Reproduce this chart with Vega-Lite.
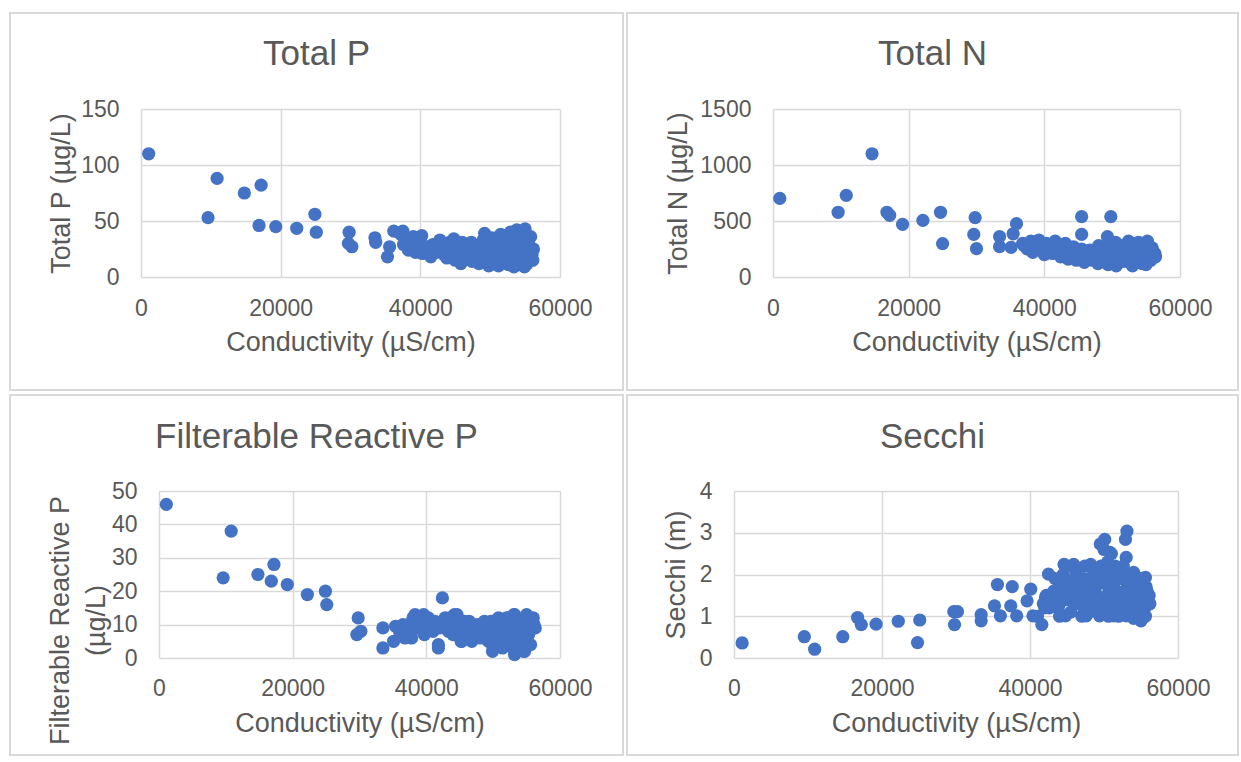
{
  "$schema": "https://vega.github.io/schema/vega-lite/v6.json",
  "padding": {"left": 9, "top": 12, "right": 0, "bottom": 0},
  "background": "white",
  "config": {
    "view": {"stroke": "#d9d9d9", "strokeWidth": 2},
    "font": "Liberation Sans",
    "axis": {"domain": false, "ticks": false, "grid": true, "gridColor": "#d9d9d9", "gridWidth": 1.5,
             "labelFont": "Liberation Sans", "labelFontSize": 23, "labelColor": "#595959",
             "titleFont": "Liberation Sans", "titleFontSize": 27, "titleColor": "#595959", "titleFontWeight": "normal",
             "labelFlush": false, "labelOverlap": false, "labelBound": false, "format": "d"},
    "title": {"font": "Liberation Sans", "fontSize": 35, "color": "#595959", "fontWeight": "normal", "anchor": "middle", "frame": "group"}
  },
  "datasets": {
    "tp": [
      {"c":1100,"v":110},{"c":10900,"v":88},{"c":14800,"v":75},{"c":17200,"v":82},{"c":9600,"v":53},{"c":16900,"v":46},{"c":19300,"v":45},{"c":22300,"v":43.5},{"c":24900,"v":56},{"c":25100,"v":40},{"c":29800,"v":40},{"c":29700,"v":30},{"c":30200,"v":27},{"c":33500,"v":35},{"c":33600,"v":31},{"c":35600,"v":27},{"c":35300,"v":18},{"c":36200,"v":41},{"c":37500,"v":41},
      {"c":37200,"v":38},{"c":37600,"v":29},{"c":38000,"v":33},{"c":38300,"v":24},{"c":38800,"v":28},{"c":39000,"v":36},{"c":39300,"v":22},{"c":39800,"v":30},{"c":40200,"v":37},{"c":40300,"v":21},{"c":40600,"v":26},{"c":41200,"v":24},{"c":41500,"v":18},{"c":41800,"v":29},{"c":42300,"v":22},{"c":42800,"v":33},{"c":43000,"v":26},{"c":43400,"v":20},{"c":43800,"v":17},{"c":44200,"v":31},{"c":44500,"v":24},{"c":44800,"v":34},{"c":45000,"v":15},{"c":45200,"v":27},{"c":45600,"v":21},{"c":45800,"v":12},{"c":46000,"v":31},{"c":46300,"v":18},{"c":46700,"v":25},{"c":47000,"v":22},{"c":47400,"v":14},{"c":47800,"v":28},{"c":48100,"v":19},{"c":48400,"v":12},{"c":48700,"v":24},{"c":49000,"v":33},{"c":49200,"v":39},{"c":49300,"v":16},{"c":49500,"v":28},{"c":49800,"v":10},{"c":50000,"v":22},{"c":50300,"v":35},{"c":50500,"v":14},{"c":50700,"v":27},{"c":51000,"v":19},{"c":51200,"v":10},{"c":51400,"v":31},{"c":51700,"v":23},{"c":52000,"v":15},{"c":52200,"v":36},{"c":52400,"v":28},{"c":52600,"v":11},{"c":52800,"v":20},{"c":53000,"v":33},{"c":53200,"v":24},{"c":53400,"v":9},{"c":53600,"v":16},{"c":53800,"v":42},{"c":53900,"v":30},{"c":54100,"v":21},{"c":54300,"v":38},{"c":54500,"v":13},{"c":54700,"v":26},{"c":54900,"v":9},{"c":55000,"v":43},{"c":55200,"v":33},{"c":55400,"v":18},{"c":55600,"v":24},{"c":55800,"v":36},{"c":56000,"v":20},{"c":56100,"v":15},{"c":55100,"v":28},{"c":54000,"v":12},{"c":52900,"v":40},{"c":51500,"v":38},
      {"c":38500,"v":31},{"c":40000,"v":32},{"c":41000,"v":27},{"c":42000,"v":25},{"c":43500,"v":29},{"c":44000,"v":22},{"c":45400,"v":24},{"c":46500,"v":28},{"c":47300,"v":31},{"c":48000,"v":23},{"c":48900,"v":20},{"c":49600,"v":31},{"c":50200,"v":18},{"c":50900,"v":33},{"c":51800,"v":28},{"c":52500,"v":19},{"c":53300,"v":29},{"c":54200,"v":34},{"c":55500,"v":30},{"c":56200,"v":25},{"c":47700,"v":17},{"c":50600,"v":12},{"c":53700,"v":12},{"c":55300,"v":12}
    ],
    "tn": [
      {"c":1000,"v":702},{"c":14600,"v":1100},{"c":10800,"v":729},{"c":9600,"v":578},{"c":16800,"v":578},{"c":17200,"v":551},{"c":19100,"v":470},{"c":22100,"v":506},{"c":24700,"v":578},{"c":25000,"v":298},{"c":29800,"v":530},{"c":29600,"v":380},{"c":30000,"v":253},{"c":33400,"v":361},{"c":33400,"v":271},{"c":35400,"v":386},{"c":35900,"v":476},{"c":35100,"v":265},{"c":45500,"v":539},{"c":45500,"v":380},{"c":49800,"v":539},{"c":49300,"v":361},
      {"c":36800,"v":300},{"c":37500,"v":250},{"c":38000,"v":320},{"c":38300,"v":220},{"c":38800,"v":290},{"c":39200,"v":330},{"c":39500,"v":240},{"c":40000,"v":200},{"c":40300,"v":300},{"c":40800,"v":260},{"c":41200,"v":210},{"c":41600,"v":320},{"c":42000,"v":270},{"c":42400,"v":180},{"c":42800,"v":240},{"c":43100,"v":300},{"c":43500,"v":160},{"c":43900,"v":220},{"c":44300,"v":270},{"c":44700,"v":150},{"c":45100,"v":200},{"c":45500,"v":250},{"c":45900,"v":130},{"c":46300,"v":190},{"c":46700,"v":240},{"c":47100,"v":150},{"c":47500,"v":200},{"c":47900,"v":120},{"c":48300,"v":230},{"c":48700,"v":170},{"c":49100,"v":260},{"c":49400,"v":110},{"c":49700,"v":200},{"c":50100,"v":150},{"c":50400,"v":240},{"c":50800,"v":120},{"c":51200,"v":190},{"c":51500,"v":280},{"c":51800,"v":140},{"c":52100,"v":230},{"c":52400,"v":320},{"c":52600,"v":180},{"c":52900,"v":110},{"c":53200,"v":260},{"c":53400,"v":210},{"c":53700,"v":150},{"c":53900,"v":310},{"c":54200,"v":240},{"c":54400,"v":120},{"c":54700,"v":280},{"c":54900,"v":180},{"c":55200,"v":320},{"c":55400,"v":220},{"c":55700,"v":150},{"c":55900,"v":260},{"c":56100,"v":190},{"c":56300,"v":210},{"c":53000,"v":300},{"c":50500,"v":310},{"c":48000,"v":280},
      {"c":37000,"v":280},{"c":38500,"v":260},{"c":39800,"v":280},{"c":41000,"v":240},{"c":42300,"v":290},{"c":43300,"v":200},{"c":44500,"v":240},{"c":45800,"v":220},{"c":46800,"v":170},{"c":47800,"v":250},{"c":48500,"v":140},{"c":49200,"v":180},{"c":50200,"v":190},{"c":51000,"v":250},{"c":51900,"v":200},{"c":52800,"v":280},{"c":53700,"v":240},{"c":54600,"v":210},{"c":55500,"v":270},{"c":56000,"v":230},{"c":50600,"v":100},{"c":53000,"v":100},{"c":55000,"v":110},{"c":56400,"v":180}
    ],
    "frp": [
      {"c":1100,"v":46},{"c":10800,"v":38},{"c":9600,"v":24},{"c":14800,"v":25},{"c":17200,"v":28},{"c":16800,"v":23},{"c":19200,"v":22},{"c":22200,"v":19},{"c":24900,"v":20},{"c":25100,"v":16},{"c":29800,"v":12},{"c":29600,"v":7},{"c":30200,"v":8},{"c":33500,"v":9},{"c":33500,"v":3},{"c":35400,"v":9.5},{"c":35100,"v":5},{"c":37800,"v":6},{"c":38300,"v":13},{"c":39600,"v":13},{"c":39700,"v":7},{"c":41800,"v":4},{"c":41800,"v":3},{"c":42400,"v":18},{"c":42800,"v":12},{"c":44600,"v":13},{"c":44000,"v":7},{"c":46400,"v":11},{"c":45200,"v":5},{"c":48200,"v":9},{"c":49900,"v":11},{"c":49900,"v":2},{"c":52000,"v":12},{"c":53200,"v":13},{"c":53200,"v":1},{"c":55000,"v":13},{"c":55600,"v":4},{"c":56200,"v":9},{"c":54700,"v":2},
      {"c":36000,"v":8},{"c":36800,"v":6},{"c":37300,"v":10},{"c":38000,"v":12},{"c":38700,"v":9},{"c":39200,"v":11},{"c":39800,"v":8},{"c":40300,"v":12},{"c":40800,"v":10},{"c":41300,"v":11},{"c":42000,"v":9},{"c":42800,"v":11},{"c":43300,"v":8},{"c":43700,"v":10},{"c":44200,"v":13},{"c":44500,"v":7},{"c":44900,"v":9},{"c":45300,"v":5},{"c":45700,"v":11},{"c":46000,"v":7},{"c":46400,"v":9},{"c":46800,"v":5},{"c":47200,"v":8},{"c":47700,"v":10},{"c":48100,"v":6},{"c":48500,"v":8},{"c":48900,"v":9},{"c":49300,"v":5},{"c":49700,"v":11},{"c":50000,"v":3},{"c":50200,"v":7},{"c":50600,"v":9},{"c":51000,"v":5},{"c":51300,"v":11},{"c":51700,"v":8},{"c":52000,"v":4},{"c":52300,"v":12},{"c":52600,"v":10},{"c":52900,"v":6},{"c":53100,"v":13},{"c":53400,"v":8},{"c":53700,"v":3},{"c":53900,"v":11},{"c":54200,"v":9},{"c":54500,"v":6},{"c":54800,"v":12},{"c":55000,"v":10},{"c":55300,"v":7},{"c":55600,"v":11},{"c":55800,"v":9},{"c":56100,"v":10},{"c":56300,"v":9},{"c":55200,"v":4},{"c":54600,"v":2},{"c":53200,"v":2},{"c":52500,"v":5},{"c":51400,"v":3},
      {"c":36500,"v":10},{"c":37600,"v":8},{"c":38500,"v":11},{"c":40000,"v":10},{"c":41000,"v":8},{"c":42500,"v":10},{"c":43500,"v":12},{"c":44800,"v":11},{"c":46200,"v":10},{"c":47500,"v":7},{"c":48700,"v":11},{"c":50400,"v":10},{"c":51600,"v":10},{"c":52800,"v":9},{"c":54000,"v":7},{"c":55400,"v":9},{"c":56000,"v":12},{"c":47000,"v":10},{"c":49000,"v":7},{"c":50800,"v":12}
    ],
    "sec": [
      {"c":1100,"v":0.36},{"c":9500,"v":0.51},{"c":10900,"v":0.21},{"c":14700,"v":0.51},{"c":16700,"v":0.97},{"c":17200,"v":0.8},{"c":19200,"v":0.81},{"c":22200,"v":0.88},{"c":25100,"v":0.91},{"c":24800,"v":0.37},{"c":29700,"v":1.11},{"c":30200,"v":1.11},{"c":29800,"v":0.8},{"c":33400,"v":1.04},{"c":33400,"v":0.89},{"c":35600,"v":1.76},{"c":35200,"v":1.25},{"c":36000,"v":1.01},{"c":37600,"v":1.71},{"c":37400,"v":1.25},{"c":38200,"v":1.01},{"c":40100,"v":1.65},{"c":39600,"v":1.37},{"c":40400,"v":1.01},{"c":41600,"v":0.8},{"c":42500,"v":2.01},{"c":42100,"v":1.45},{"c":42800,"v":1.25},{"c":44600,"v":2.24},{"c":45900,"v":2.24},{"c":44800,"v":1.01},{"c":46200,"v":1.81},{"c":44100,"v":1.73},{"c":48200,"v":2.24},{"c":47600,"v":1.01},{"c":49500,"v":2.73},{"c":50100,"v":2.84},{"c":50800,"v":2.53},{"c":53100,"v":3.04},{"c":52900,"v":2.84},{"c":53000,"v":2.41},{"c":49400,"v":1.01},{"c":51300,"v":1.01},{"c":53000,"v":1.01},{"c":55000,"v":0.89},{"c":55600,"v":1.93},{"c":56000,"v":1.33},{"c":55900,"v":1.53},{"c":54000,"v":2.05},
      {"c":41000,"v":1.0},{"c":41800,"v":1.3},{"c":42200,"v":1.5},{"c":42600,"v":1.2},{"c":43000,"v":1.4},{"c":43400,"v":1.9},{"c":43800,"v":1.2},{"c":44200,"v":1.6},{"c":44500,"v":2.0},{"c":44900,"v":1.4},{"c":45200,"v":1.8},{"c":45500,"v":1.1},{"c":45900,"v":1.5},{"c":46200,"v":2.1},{"c":46500,"v":1.3},{"c":46900,"v":1.7},{"c":47300,"v":1.2},{"c":47600,"v":1.5},{"c":48000,"v":1.9},{"c":48300,"v":1.3},{"c":48600,"v":2.1},{"c":48800,"v":1.6},{"c":49100,"v":1.2},{"c":49300,"v":1.8},{"c":49600,"v":2.2},{"c":49900,"v":1.4},{"c":50100,"v":1.1},{"c":50300,"v":1.9},{"c":50500,"v":2.3},{"c":50700,"v":1.6},{"c":50900,"v":1.3},{"c":51100,"v":2.0},{"c":51300,"v":1.7},{"c":51500,"v":2.2},{"c":51700,"v":1.2},{"c":51900,"v":1.5},{"c":52100,"v":1.9},{"c":52300,"v":1.1},{"c":52500,"v":2.1},{"c":52700,"v":1.6},{"c":52900,"v":1.3},{"c":53100,"v":1.8},{"c":53300,"v":2.0},{"c":53500,"v":1.4},{"c":53700,"v":1.7},{"c":53900,"v":1.1},{"c":54100,"v":2.0},{"c":54300,"v":1.5},{"c":54500,"v":1.3},{"c":54700,"v":1.8},{"c":54900,"v":1.1},{"c":55100,"v":1.6},{"c":55300,"v":1.4},{"c":55500,"v":1.2},{"c":55700,"v":1.7},{"c":55900,"v":1.4},{"c":56100,"v":1.5},{"c":56200,"v":1.3},{"c":54000,"v":0.95},{"c":51000,"v":2.5},{"c":50000,"v":2.6},
      {"c":44000,"v":1.3},{"c":44700,"v":1.7},{"c":45400,"v":1.4},{"c":46000,"v":1.9},{"c":46700,"v":1.5},{"c":47200,"v":1.9},{"c":47800,"v":1.7},{"c":48400,"v":1.5},{"c":49000,"v":2.0},{"c":49800,"v":1.8},{"c":50400,"v":1.5},{"c":51000,"v":1.8},{"c":51600,"v":1.6},{"c":52200,"v":1.4},{"c":52800,"v":1.9},{"c":53400,"v":1.6},{"c":54000,"v":1.8},{"c":54600,"v":1.6},{"c":55200,"v":1.9},{"c":55800,"v":1.6},{"c":47000,"v":1.0},{"c":48000,"v":1.1},{"c":50600,"v":1.0},{"c":52000,"v":1.0},{"c":54400,"v":1.0},{"c":55600,"v":1.0},{"c":43200,"v":1.6},{"c":45700,"v":1.6},{"c":48900,"v":1.4},{"c":53800,"v":1.3},{"c":50200,"v":2.1},{"c":52600,"v":2.2},{"c":47400,"v":2.2},{"c":45000,"v":2.2},{"c":44000,"v":1.0},{"c":42000,"v":1.2}
    ]
  },
  "vconcat": [
    {
      "hconcat": [
        {
          "width": 613, "height": 377,
          "data": {"name": "tp"},
          "title": {"text": "Total P", "baseline": "alphabetic", "offset": 0, "dy": 87},
          "mark": {"type": "circle", "size": 175, "color": "#4472C4", "opacity": 1},
          "encoding": {
            "x": {"field": "c", "type": "quantitative",
                  "scale": {"domain": [0, 60000], "range": [131, 550], "nice": false, "zero": false},
                  "axis": {"orient": "top", "offset": -264, "values": [0, 20000, 40000, 60000], "labelPadding": -38, "labelBaseline": "alphabetic", "title": "Conductivity (µS/cm)", "titleY": 73, "titleBaseline": "alphabetic"}},
            "y": {"field": "v", "type": "quantitative",
                  "scale": {"domain": [0, 150], "range": [264, 96], "nice": false, "zero": false},
                  "axis": {"offset": -131, "values": [0, 50, 100, 150], "labelPadding": 22, "title": "Total P (µg/L)", "titleX": -80, "titleBaseline": "middle"}}
          }
        },
        {
          "width": 611, "height": 377,
          "data": {"name": "tn"},
          "title": {"text": "Total N", "baseline": "alphabetic", "offset": 0, "dy": 87},
          "mark": {"type": "circle", "size": 175, "color": "#4472C4", "opacity": 1},
          "encoding": {
            "x": {"field": "c", "type": "quantitative",
                  "scale": {"domain": [0, 60000], "range": [146, 553], "nice": false, "zero": false},
                  "axis": {"orient": "top", "offset": -264, "values": [0, 20000, 40000, 60000], "labelPadding": -38, "labelBaseline": "alphabetic", "title": "Conductivity (µS/cm)", "titleY": 73, "titleBaseline": "alphabetic"}},
            "y": {"field": "v", "type": "quantitative",
                  "scale": {"domain": [0, 1500], "range": [264, 96], "nice": false, "zero": false},
                  "axis": {"offset": -146, "values": [0, 500, 1000, 1500], "labelPadding": 22, "title": "Total N (µg/L)", "titleX": -95, "titleBaseline": "middle"}}
          }
        }
      ],
      "spacing": 4,
      "bounds": "flush"
    },
    {
      "hconcat": [
        {
          "width": 613, "height": 360,
          "data": {"name": "frp"},
          "title": {"text": "Filterable Reactive P", "baseline": "alphabetic", "offset": 0, "dy": 88},
          "mark": {"type": "circle", "size": 175, "color": "#4472C4", "opacity": 1},
          "encoding": {
            "x": {"field": "c", "type": "quantitative",
                  "scale": {"domain": [0, 60000], "range": [149, 550], "nice": false, "zero": false},
                  "axis": {"orient": "top", "offset": -263, "values": [0, 20000, 40000, 60000], "labelPadding": -37, "labelBaseline": "alphabetic", "title": "Conductivity (µS/cm)", "titleY": 73, "titleBaseline": "alphabetic"}},
            "y": {"field": "v", "type": "quantitative",
                  "scale": {"domain": [0, 50], "range": [263, 96], "nice": false, "zero": false},
                  "axis": {"offset": -149, "values": [0, 10, 20, 30, 40, 50], "labelPadding": 22, "title": ["Filterable Reactive P", "(µg/L)"], "titleLineHeight": 36, "titleX": -99, "titleY": 225, "titleBaseline": "middle"}}
          }
        },
        {
          "width": 611, "height": 360,
          "data": {"name": "sec"},
          "title": {"text": "Secchi", "baseline": "alphabetic", "offset": 0, "dy": 88},
          "mark": {"type": "circle", "size": 175, "color": "#4472C4", "opacity": 1},
          "encoding": {
            "x": {"field": "c", "type": "quantitative",
                  "scale": {"domain": [0, 60000], "range": [107, 551], "nice": false, "zero": false},
                  "axis": {"orient": "top", "offset": -263, "values": [0, 20000, 40000, 60000], "labelPadding": -37, "labelBaseline": "alphabetic", "title": "Conductivity (µS/cm)", "titleY": 73, "titleBaseline": "alphabetic"}},
            "y": {"field": "v", "type": "quantitative",
                  "scale": {"domain": [0, 4], "range": [263, 96], "nice": false, "zero": false},
                  "axis": {"offset": -107, "values": [0, 1, 2, 3, 4], "labelPadding": 22, "title": "Secchi (m)", "titleX": -58, "titleBaseline": "middle"}}
          }
        }
      ],
      "spacing": 4,
      "bounds": "flush"
    }
  ],
  "spacing": 3
}
